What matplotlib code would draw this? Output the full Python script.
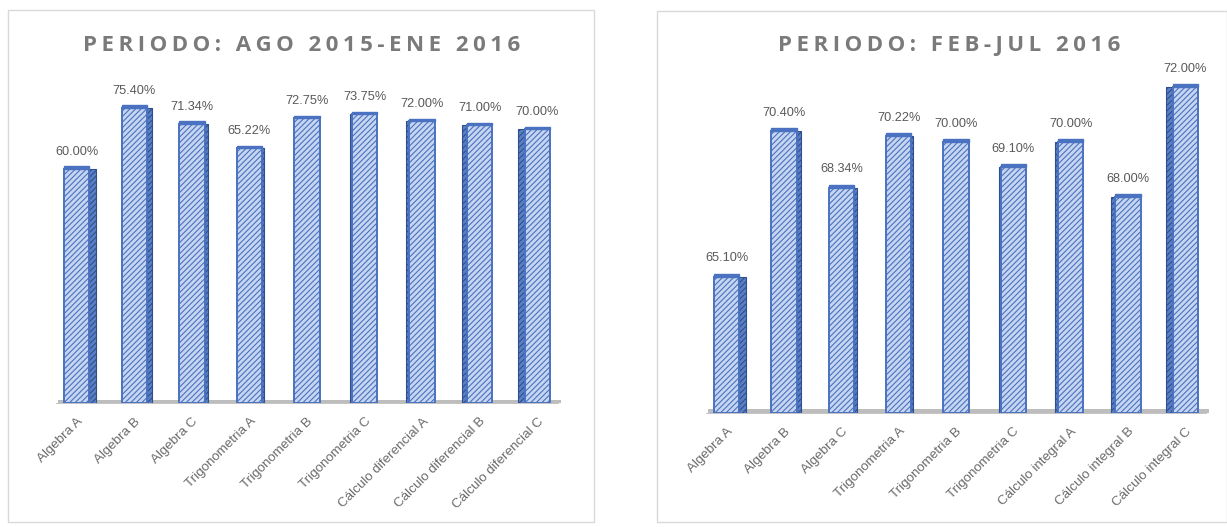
import matplotlib.pyplot as plt
import matplotlib.transforms as mtransforms
from matplotlib.patches import Rectangle

# datos de aprobacion por materia
materias_1 = ["Algebra A", "Algebra B", "Algebra C",
              "Trigonometria A", "Trigonometria B", "Trigonometria C",
              "Cálculo diferencial A", "Cálculo diferencial B", "Cálculo diferencial C"]
valores_1 = [60.00, 75.40, 71.34, 65.22, 72.75, 73.75, 72.00, 71.00, 70.00]

materias_2 = ["Algebra A", "Algebra B", "Algebra C",
              "Trigonometria A", "Trigonometria B", "Trigonometria C",
              "Cálculo integral A", "Cálculo integral B", "Cálculo integral C"]
valores_2 = [65.10, 70.40, 68.34, 70.22, 70.00, 69.10, 70.00, 68.00, 72.00]

titulo_1 = "PERIODO: AGO 2015-ENE 2016"
titulo_2 = "PERIODO: FEB-JUL 2016"

azul = "#4a72c0"
azul_osc = "#2f4f8f"
relleno = "#c6d5f0"
gris_txt = "#595959"

plt.rcParams['font.family'] = ['Open Sans', 'DejaVu Sans']
plt.rcParams['hatch.color'] = "#5478c2"
plt.rcParams['hatch.linewidth'] = 0.8

fig = plt.figure(figsize=(12.27, 5.27), dpi=100)
W, H = 1227, 527


def px(x0, y0, x1, y1):
    # caja en pixeles (arriba-izquierda) -> fraccion de figura
    return [x0 / W, 1 - y1 / H, (x1 - x0) / W, (y1 - y0) / H]


def espaciado(t):
    # separa las letras del titulo
    return "\u2009".join(t)


def grafica(rect, materias, valores, ymin, ymax, titulo, tx, ty):
    ax = fig.add_axes(rect)
    n = len(valores)
    xs = list(range(n))
    ancho = 0.44
    r = ymax - ymin
    # piso gris
    ax.fill_between([-0.32, 8.42], ymin, ymin + r * 0.01,
                    color="#bdbdbd", zorder=1, linewidth=0)
    ax.fill_between([-0.36, 8.38], ymin - r * 0.009, ymin,
                    color="#c4c4c4", zorder=1, linewidth=0)
    # cara lateral (efecto 3D)
    for i, v in enumerate(valores):
        lado = 0.11 * (4 - i) / 4
        if abs(lado) < 0.01:
            continue
        xc = i + (ancho / 2 + abs(lado) / 2) * (1 if lado > 0 else -1)
        ax.bar(xc, v - ymin, bottom=ymin, width=abs(lado),
               color="#5b7fc4", edgecolor=azul_osc, linewidth=0.8,
               hatch="//////", zorder=2)
    ax.bar(xs, [v - ymin for v in valores], bottom=ymin, width=ancho,
           color=relleno, edgecolor=azul, linewidth=1.4,
           hatch="//////", zorder=3)
    # tapa superior
    ax.bar(xs, [r * 0.008] * n, bottom=valores, width=ancho,
           color=azul, edgecolor=azul, linewidth=1.0, zorder=4)
    for x, v in zip(xs, valores):
        ax.text(x, v + r * 0.035, f"{v:.2f}%", ha="center",
                va="bottom", fontsize=9.2, color=gris_txt,
                family=['Liberation Sans', 'DejaVu Sans'])
    ax.set_xlim(-0.5, n - 0.5)
    ax.set_ylim(ymin, ymax)
    ax.set_xticks(xs)
    ax.set_xticklabels(materias, rotation=45, ha="right",
                       rotation_mode="anchor", fontsize=9.6, color="#6a6a6a",
                       family=['Liberation Sans', 'DejaVu Sans'])
    desp = mtransforms.ScaledTranslation(6 / 100, 0, fig.dpi_scale_trans)
    for lab in ax.get_xticklabels():
        lab.set_transform(lab.get_transform() + desp)
    ax.tick_params(axis="x", length=0, pad=9)
    ax.set_yticks([])
    for s in ax.spines.values():
        s.set_visible(False)
    ax.patch.set_alpha(0)
    fig.text(tx / W, 1 - ty / H, espaciado(titulo), ha="center", va="center",
             fontsize=16, fontweight="bold", color="#7a7a7a")


# marcos de cada grafica
fig.add_artist(Rectangle((8 / W, 1 - 522 / H), 586 / W, 512 / H,
                         transform=fig.transFigure, fill=False,
                         edgecolor="#d9d9d9", linewidth=1))
fig.add_artist(Rectangle((657 / W, 1 - 522 / H), 570 / W, 511 / H,
                         transform=fig.transFigure, fill=False,
                         edgecolor="#d9d9d9", linewidth=1))

grafica(px(48, 86, 566, 403), materias_1, valores_1, 0.9, 80.9,
        titulo_1, 302, 45)
grafica(px(698, 57, 1214, 413), materias_2, valores_2, 60.15, 73.1,
        titulo_2, 949, 45)

fig.savefig("out.png", dpi=100)
